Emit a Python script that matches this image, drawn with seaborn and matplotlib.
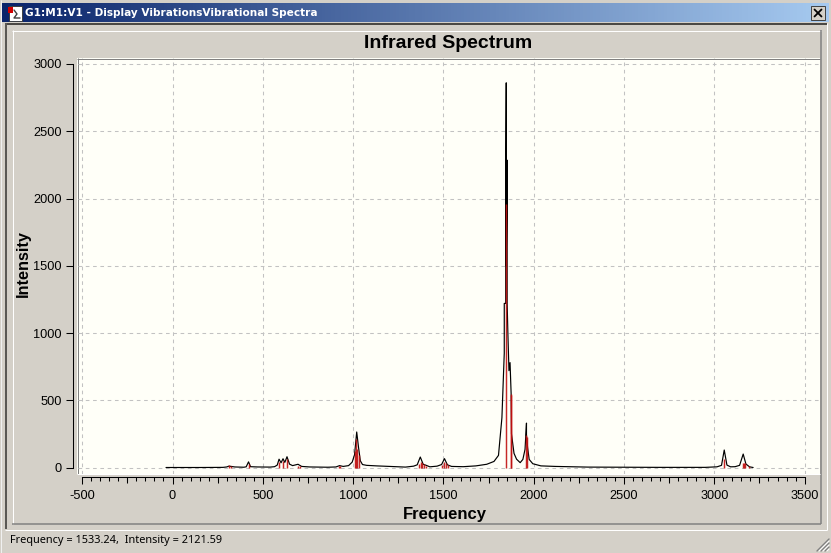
import numpy as np
import pandas as pd
import matplotlib
matplotlib.use("Agg")
import matplotlib.pyplot as plt
from matplotlib.patches import Rectangle
from matplotlib.ticker import FixedLocator
import seaborn as sns

# ---- data ----
spectrum_freq = [-36, 150, 280, 300, 312, 325, 345, 395, 408, 421, 432, 470, 540, 565, 580, 590, 601, 612, 622, 634,
                 648, 665, 695, 715, 760, 860, 905, 925, 945, 975, 995, 1008, 1020, 1030, 1040, 1052, 1075, 1130, 1220,
                 1290, 1335, 1355, 1372, 1388, 1405, 1425, 1465, 1490, 1506, 1522, 1545, 1610, 1680, 1740, 1780, 1805,
                 1824, 1837, 1837, 1845, 1845, 1848, 1848, 1853, 1853, 1857, 1863, 1869, 1875, 1877, 1891, 1905, 1925, 1940,
                 1952, 1960, 1960, 1966, 1975, 1995, 2040, 2120, 2300, 2700, 2950, 3015, 3040, 3055, 3070, 3090, 3115,
                 3140, 3160, 3175, 3195, 3215]
spectrum_int = [0, 0, 1, 4, 10, 8, 4, 2, 5, 42, 6, 4, 3, 6, 18, 62, 35, 65, 38, 80,
                25, 14, 24, 8, 4, 2, 4, 14, 8, 14, 40, 95, 264, 150, 50, 22, 16, 12, 7,
                3, 10, 20, 78, 24, 16, 5, 10, 22, 66, 20, 8, 6, 12, 24, 45, 90,
                370, 850, 1220, 1220, 2000, 2860, 1500, 2285, 1220, 1000, 720, 780, 550, 250, 105, 62, 36, 60,
                135, 330, 240, 150, 60, 28, 12, 8, 3, 1, 1, 5, 16, 130, 18, 5, 6,
                16, 100, 26, 5, 0]
stick_freq = [312, 322, 421, 590, 612, 634, 695, 705, 920, 930, 1012, 1018, 1024, 1032,
              1365, 1375, 1382, 1395, 1405, 1495, 1505, 1515, 1524,
              1849, 1874, 1877, 1958, 1961, 3055, 3158, 3165, 3172, 3190]
stick_int = [16, 14, 25, 42, 48, 62, 12, 10, 8, 10, 120, 215, 140, 90,
             28, 38, 36, 28, 14, 22, 42, 34, 16,
             1960, 550, 540, 240, 230, 62, 32, 34, 30, 8]
y_ticks = [0, 500, 1000, 1500, 2000, 2500, 3000]
x_ticks = [-500, 0, 500, 1000, 1500, 2000, 2500, 3000, 3500]
x_mid_ticks = [-250, 250, 750, 1250, 1750, 2250, 2750, 3250]
window_title = "G1:M1:V1 - Display VibrationsVibrational Spectra"
chart_title = "Infrared Spectrum"
status_text = "Frequency = 1533.24,  Intensity = 2121.59"

sns.set_theme(style="white")
plt.rcParams["font.family"] = ["Liberation Sans", "DejaVu Sans"]
plt.rcParams["axes.unicode_minus"] = False

W, H = 831, 553
PANEL = "#D4D0C8"
fig = plt.figure(figsize=(W / 100, H / 100), dpi=100, facecolor=PANEL)

# ---- window chrome, in pixel coordinates ----
bg = fig.add_axes([0, 0, 1, 1], zorder=0)
bg.set_xlim(0, W)
bg.set_ylim(H, 0)
bg.axis("off")
grad = np.linspace(0, 1, 256)[None, :, None]
c0, c1 = np.array([10, 36, 106]) / 255, np.array([166, 202, 240]) / 255
bg.imshow(c0 + (c1 - c0) * grad, extent=(2, 829, 22, 3), aspect="auto", zorder=1)
bg.set_xlim(0, W)
bg.set_ylim(H, 0)


def hl(x0, x1, y, c, lw=1.0):
    bg.plot([x0, x1], [y, y], color=c, lw=lw * 0.72, solid_capstyle="butt", zorder=2)


def vl(x, y0, y1, c, lw=1.0):
    bg.plot([x, x], [y0, y1], color=c, lw=lw * 0.72, solid_capstyle="butt", zorder=2)


# outer window edge
hl(0, W, 0.5, PANEL); hl(0, W, 552.5, "#404040"); vl(830.5, 0, H, "#404040"); vl(0.5, 0, H, "#F0F0F0")
# sunken client frame
hl(5, 827, 23.5, "#4A4844", 2); vl(6, 23, 529, "#5A5854", 2)
hl(5, 827, 529.5, "#FFFFFF"); vl(826.5, 23, 530, "#FFFFFF")
# inner etched frame
hl(12, 821, 30.5, "#FFFFFF"); vl(12.5, 30, 524, "#FFFFFF")
hl(12, 821, 523.5, "#808080", 1.5); vl(820.5, 30, 524, "#808080", 1.5)
# plot area edge
bg.add_patch(Rectangle((77, 58), 743, 416, fc="#FFFFF8", ec="none", zorder=1.5))
hl(77, 820, 58.5, "#808080"); vl(77.5, 58, 474, "#808080")
hl(77, 820, 473.5, "#FFFFFF")
# close button
bg.add_patch(Rectangle((811, 6), 14, 14, fc=PANEL, ec="#404040", lw=0.7, zorder=3))
hl(811, 825, 6.5, "#FFFFFF"); vl(811.5, 6, 20, "#FFFFFF")
for a, b in [((814.5, 9.5), (821.5, 16.5)), ((821.5, 9.5), (814.5, 16.5))]:
    bg.plot([a[0], b[0]], [a[1], b[1]], color="black", lw=1.3, zorder=4)
# window icon
bg.add_patch(Rectangle((9, 6), 13, 15, fc="white", ec="#303030", lw=0.6, zorder=3))
bg.add_patch(Rectangle((8, 7), 5, 6, fc="#D00000", ec="none", zorder=4))
bg.plot([14, 17, 14, 20], [10, 14, 18, 18], color="#404040", lw=1, zorder=4)
# resize grip
for k in [3, 7, 11]:
    bg.plot([829 - k - 1, 829], [551, 551 - k - 1], color="#808080", lw=1, zorder=3)
    bg.plot([829 - k + 1, 829], [551, 551 - k + 1], color="#FFFFFF", lw=0.7, zorder=3)
# title bar and status text
bg.text(25, 13, window_title, color="white", fontweight="bold", fontsize=7.6, va="center", ha="left",
        family=["DejaVu Sans"], zorder=5)
bg.text(10, 540, status_text, color="black", fontsize=7.9, va="center", ha="left", family=["Noto Sans"], zorder=5)

# ---- the chart ----
ax = fig.add_axes([77.5 / W, 1 - 474 / H, (820 - 77.5) / W, (474 - 58) / H], zorder=2)
ax.patch.set_alpha(0)
ppx, ppy = 0.1806, 0.1345
ax.set_xlim((77.5 - 172.5) / ppx, (820 - 172.5) / ppx)
ax.set_ylim((467.5 - 474) / ppy, (467.5 - 58) / ppy)

spec = pd.DataFrame({"Frequency": spectrum_freq, "Intensity": spectrum_int})
sns.lineplot(data=spec, x="Frequency", y="Intensity", estimator=None, sort=False, color="black",
             lw=0.85, ax=ax, zorder=3)
ax.vlines(stick_freq, 0, stick_int, color="#C01010", lw=1.05, alpha=0.9, zorder=4)

ax.grid(True, which="major", color="#C2C2C2", lw=0.75, ls=(0, (3.5, 3.5)))
ax.set_axisbelow(True)
for s in ["top", "right"]:
    ax.spines[s].set_visible(False)
ax.spines["left"].set_position(("outward", 3.2))
ax.spines["left"].set_bounds(0, 3000)
ax.spines["bottom"].set_position(("outward", 2.2))
ax.spines["bottom"].set_bounds(-500, 3500)
for s in ["left", "bottom"]:
    ax.spines[s].set_color("black")
    ax.spines[s].set_linewidth(0.75)
ax.xaxis.set_major_locator(FixedLocator(x_ticks))
ax.yaxis.set_major_locator(FixedLocator(y_ticks))
ax.xaxis.set_minor_locator(FixedLocator(np.arange(x_ticks[0], x_ticks[-1] + 1, 50)))
ax.tick_params(axis="both", which="major", length=5, width=0.75, color="black", labelsize=9.2,
               labelcolor="black", left=True, bottom=True)
ax.tick_params(axis="y", pad=3)
ax.tick_params(axis="x", pad=4)
ax.tick_params(axis="x", which="minor", length=3, width=0.75, color="black", bottom=True)

mid = ax.secondary_xaxis(-0.0072)
mid.set_xticks(x_mid_ticks)
mid.tick_params(length=4, width=0.75, color="black", labelbottom=False, bottom=True)
mid.spines["bottom"].set_visible(False)

ax.set_xlabel("Frequency", fontweight="bold", fontsize=12, color="black", labelpad=3)
ax.set_ylabel("Intensity", fontweight="bold", fontsize=11.7, color="black", labelpad=0)
ax.xaxis.set_label_coords((445 - 77.5) / (820 - 77.5), -(514.5 - 474) / 416, transform=ax.transAxes)
ax.xaxis.label.set_va("center")
ax.yaxis.set_label_coords((23 - 77.5) / (820 - 77.5), (474 - 264) / 416, transform=ax.transAxes)
ax.yaxis.label.set_va("center")
ax.set_title(chart_title, fontweight="bold", fontsize=14, color="black", y=(474 - 43.5) / 416, va="center", pad=0,
             x=(448 - 77.5) / (820 - 77.5))

fig.savefig("out.png", dpi=100, facecolor=PANEL)
